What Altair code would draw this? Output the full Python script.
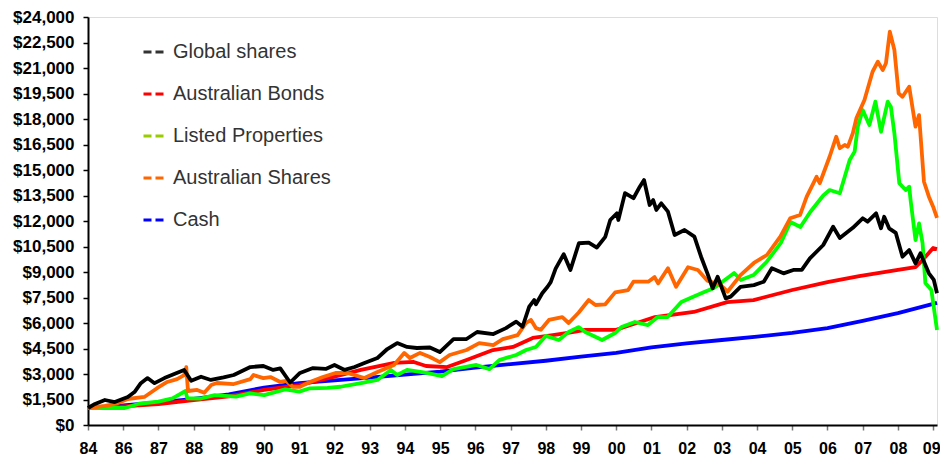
import altair as alt
import pandas as pd

SERIES = ["Global shares", "Australian Bonds", "Listed Properties", "Australian Shares", "Cash"]
LINE_COLORS = ["#000000", "#FF0000", "#00FF00", "#FF6600", "#0000FF"]
LEGEND_COLORS = ["#333333", "#FF0000", "#99CC00", "#FF6600", "#0000FF"]
XLABELS = ["84", "86", "87", "88", "89", "90", "91", "92", "93", "94", "95", "96", "97",
           "98", "99", "00", "01", "02", "03", "04", "05", "06", "07", "08", "09"]
YTICKS = list(range(0, 24001, 1500))

cash_t = [0, 1, 2, 3, 4, 5, 6, 7, 8, 9, 10, 11, 12, 13, 14, 15, 16, 17, 18, 19, 20, 21, 22, 23, 24, 24.11]
cash_v = [1000, 1150, 1330, 1530, 1800, 2200, 2460, 2630, 2790, 2960, 3140, 3370, 3580, 3780, 4020,
          4240, 4560, 4800, 5000, 5200, 5420, 5700, 6120, 6580, 7120, 7180]

bond_t = [0, 1, 2, 3, 4, 5, 6, 7, 7.75, 8.7, 9.25, 9.6, 10.2, 10.75, 11.5, 12.07, 12.63, 13.2,
          13.76, 14.12, 15, 16.1, 17.2, 18.15, 18.9, 20, 21, 21.9, 23, 23.5, 23.7, 24, 24.11]
bond_v = [1000, 1100, 1230, 1470, 1680, 2060, 2350, 2850, 3240, 3650, 3710, 3470, 3410, 3820,
          4410, 4590, 5120, 5290, 5470, 5590, 5600, 6350, 6650, 7230, 7350, 7940, 8410, 8760,
          9120, 9290, 9700, 10410, 10350]

prop_t = [0, 0.5, 1.05, 1.45, 2.0, 2.4, 2.77, 2.82, 3.2, 3.6, 4.2, 4.6, 5.0, 5.6, 6.0, 6.3, 6.8,
          7.17, 7.75, 8.22, 8.6, 8.78, 9.06, 9.62, 10.05, 10.38, 11.03, 11.4, 11.68, 12.16, 12.44,
          12.72, 13.0, 13.37, 13.65, 13.93, 14.12, 14.6, 14.97, 15.15, 15.53, 15.9, 16.18, 16.46,
          16.85, 17.14, 17.5, 17.78, 18.35, 18.54, 18.9, 19.27, 19.67, 19.95, 20.23, 20.51, 20.88,
          21.06, 21.35, 21.49, 21.63, 21.77, 21.86, 22.0, 22.19, 22.36, 22.52, 22.71, 22.8, 22.9,
          23.04, 23.22, 23.32, 23.36, 23.5, 23.6, 23.7, 23.78, 23.95, 24.11]
prop_v = [1000, 1000, 1000, 1250, 1370, 1570, 2000, 1570, 1560, 1760, 1670, 1860, 1760, 2100,
          1960, 2160, 2180, 2250, 2470, 2650, 3240, 2940, 3240, 3060, 2880, 3290, 3530, 3290,
          3820, 4120, 4410, 4590, 5240, 5000, 5470, 5760, 5470, 5000, 5410, 5760, 6060, 5880,
          6350, 6350, 7230, 7500, 7820, 8060, 8940, 8530, 8820, 9590, 10700, 11940, 11650, 12530,
          13500, 13820, 13630, 14600, 15590, 16080, 17550, 18530, 17650, 19020, 17250, 19020,
          18720, 17160, 14220, 13820, 14020, 13230, 10880, 11860, 10700, 8350, 7940, 5590]

aus_t = [0, 0.48, 0.8, 1.13, 1.6, 1.97, 2.25, 2.53, 2.73, 2.79, 2.84, 3.1, 3.3, 3.5, 3.66, 4.14,
         4.61, 4.7, 4.98, 5.18, 5.46, 5.63, 5.82, 6.02, 6.3, 6.67, 7.03, 7.37, 7.85, 8.22, 8.69,
         8.98, 9.14, 9.43, 9.71, 9.99, 10.27, 10.75, 11.11, 11.51, 11.78, 12.2, 12.44, 12.58,
         12.72, 12.86, 13.09, 13.47, 13.65, 13.93, 14.22, 14.41, 14.69, 14.97, 15.34, 15.49,
         15.91, 16.09, 16.19, 16.47, 16.7, 17.04, 17.32, 17.59, 17.97, 18.16, 18.53, 18.91, 19.28,
         19.66, 19.94, 20.22, 20.41, 20.69, 20.78, 21.06, 21.25, 21.35, 21.49, 21.58, 21.72,
         21.82, 22.05, 22.28, 22.43, 22.57, 22.66, 22.77, 22.9, 23.02, 23.13, 23.32, 23.5, 23.6,
         23.74, 23.88, 24.0, 24.11]
aus_v = [1000, 1120, 1250, 1530, 1650, 2180, 2530, 2700, 2940, 3400, 2000, 2060, 1900, 2350,
         2470, 2410, 2700, 2940, 2760, 2820, 2530, 2590, 2240, 2240, 2530, 2820, 3060, 3060, 2760,
         3120, 3530, 4240, 3940, 4240, 4000, 3700, 4120, 4410, 4820, 4700, 5050, 5290, 6000, 6180,
         5700, 5600, 6180, 6350, 6000, 6600, 7350, 7060, 7100, 7800, 7940, 8430, 8430, 8700, 8330,
         9220, 8130, 9280, 9120, 8490, 8230, 7840, 8820, 9530, 10000, 11080, 12160, 12350, 13430,
         14600, 14220, 15780, 16960, 16280, 16470, 16370, 17170, 18040, 19120, 20780, 21370,
         20880, 21280, 23140, 22060, 19510, 19310, 19900, 17550, 18230, 14310, 13430, 12840, 12180]

glob_t = [0, 0.2, 0.48, 0.76, 1.13, 1.32, 1.5, 1.69, 1.89, 2.17, 2.45, 2.73, 2.93, 3.21, 3.49,
          3.85, 4.14, 4.61, 4.98, 5.26, 5.46, 5.74, 6.02, 6.39, 6.75, 7.0, 7.29, 7.57, 7.85, 8.22,
          8.5, 8.78, 9.06, 9.34, 9.71, 9.99, 10.38, 10.75, 11.05, 11.51, 11.87, 12.16, 12.34,
          12.53, 12.67, 12.72, 12.9, 13.05, 13.14, 13.28, 13.51, 13.7, 13.94, 14.22, 14.45, 14.69,
          14.83, 15.02, 15.06, 15.25, 15.49, 15.67, 15.79, 15.95, 16.05, 16.14, 16.28, 16.47,
          16.66, 16.94, 17.22, 17.41, 17.59, 17.74, 17.88, 18.11, 18.25, 18.53, 18.91, 19.19,
          19.42, 19.75, 20.03, 20.27, 20.5, 20.88, 21.16, 21.35, 21.72, 22.0, 22.14, 22.38, 22.52,
          22.61, 22.75, 22.94, 23.13, 23.32, 23.5, 23.64, 23.88, 24.02, 24.11]
glob_v = [1000, 1240, 1470, 1350, 1650, 1940, 2460, 2760, 2460, 2760, 3000, 3240, 2600, 2840,
          2650, 2800, 2940, 3410, 3470, 3240, 3330, 2500, 3060, 3350, 3300, 3530, 3240, 3410,
          3650, 3940, 4470, 4820, 4590, 4530, 4560, 4290, 5050, 5060, 5470, 5350, 5700, 6080,
          5780, 6960, 7350, 7100, 7750, 8130, 8400, 9200, 10050, 9120, 10690, 10730, 10440, 11070,
          12060, 12450, 12060, 13640, 13340, 14020, 14410, 12940, 13230, 12650, 13040, 12550,
          11180, 11470, 11080, 9900, 8920, 8040, 8720, 7450, 7550, 8130, 8230, 8430, 9220, 8920,
          9120, 9120, 9800, 10590, 11660, 11000, 11600, 12160, 11960, 12450, 11570, 12250, 11570,
          11300, 9900, 10290, 9510, 10100, 8920, 8530, 7750]

# draw order: bottom to top
draw = [("Cash", cash_t, cash_v), ("Australian Bonds", bond_t, bond_v),
        ("Listed Properties", prop_t, prop_v), ("Australian Shares", aus_t, aus_v),
        ("Global shares", glob_t, glob_v)]
rows = []
for name, ts, vs in draw:
    for t, v in zip(ts, vs):
        rows.append({"t": t, "v": v, "series": name})
df = pd.DataFrame(rows)

label_arr = "[" + ",".join("'" + s + "'" for s in XLABELS) + "]"
last_tick = len(XLABELS) - 1
FONT = "Liberation Sans"

x_scale = alt.Scale(domain=[0, 24.11], nice=False, zero=False)
y_scale = alt.Scale(domain=[0, 24000], nice=False)

x_axis = alt.Axis(values=list(range(len(XLABELS))), labelExpr=label_arr + "[datum.value]",
                  title=None, grid=False, domainColor="#000000", domainWidth=2,
                  tickColor="#777777", tickSize=5, tickWidth=1.5,
                  labelFont=FONT, labelFontSize=16, labelFontWeight="bold",
                  labelColor="#000000", labelPadding=10, labelFlush=False,
                  labelOffset={"condition": {"test": "datum.value === %d" % last_tick, "value": -2},
                               "value": 0},
                  labelOverlap=False, labelBound=False)
y_axis = alt.Axis(values=YTICKS, format="$,.0f", title=None, grid=False,
                  domainColor="#000000", domainWidth=2, tickColor="#000000",
                  tickSize=5, tickWidth=1.5, labelFont=FONT, labelFontSize=17,
                  labelFontWeight="bold", labelColor="#000000", labelPadding=9,
                  labelOverlap=False, labelBound=False)

lines = alt.Chart(df).mark_line(strokeWidth=3.8, strokeJoin="round").encode(
    x=alt.X("t:Q", scale=x_scale, axis=x_axis),
    y=alt.Y("v:Q", scale=y_scale, axis=y_axis),
    color=alt.Color("series:N", scale=alt.Scale(domain=SERIES, range=LINE_COLORS), legend=None),
    detail="series:N",
)

legend_layer = alt.Chart(df).mark_line(strokeWidth=3).encode(
    x=alt.X("t:Q", scale=x_scale, axis=x_axis),
    y=alt.Y("v:Q", scale=y_scale, axis=y_axis),
    stroke=alt.Stroke("series:N", scale=alt.Scale(domain=SERIES, range=LEGEND_COLORS),
                      legend=alt.Legend(orient="none", legendX=54, legendY=23, title=None,
                                        symbolType="stroke", symbolSize=441,
                                        symbolStrokeWidth=3, symbolDash=[8, 4],
                                        labelFont=FONT, labelFontSize=20, labelColor="#333333",
                                        labelOffset=7, rowPadding=20)),
).transform_filter("datum.t < -1")

chart = alt.layer(lines, legend_layer).resolve_scale(color="independent", stroke="independent").properties(
    width=849, height=408,
    autosize=alt.AutoSizeParams(type="none"),
    padding={"left": 80, "top": 9, "right": 3, "bottom": 31},
).configure_view(strokeWidth=0, stroke=None).configure(background="white")

chart.save("out.html", embed_options={"renderer": "svg", "actions": False})
